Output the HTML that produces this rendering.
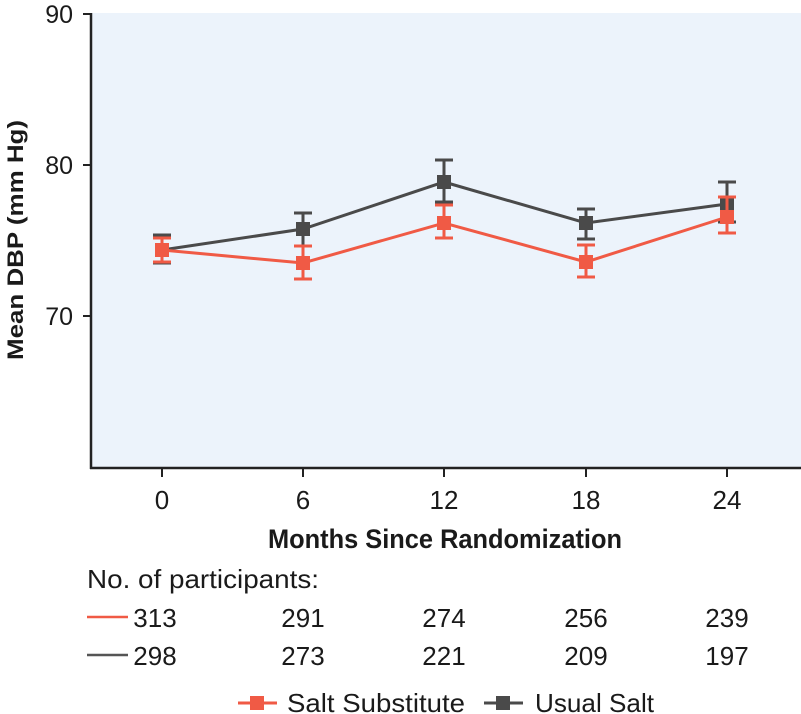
<!DOCTYPE html>
<html><head><style>
html,body{margin:0;padding:0;background:#fff;width:801px;height:714px;overflow:hidden}
text{font-family:"Liberation Sans",sans-serif;fill:#1a1a1a}
</style></head><body>
<svg width="801" height="714" viewBox="0 0 801 714" xmlns="http://www.w3.org/2000/svg">
<rect x="92" y="13" width="709" height="455" fill="#ecf3fb"/>
<line x1="91" y1="13" x2="91" y2="469" stroke="#222" stroke-width="2.5"/>
<line x1="90" y1="468" x2="801" y2="468" stroke="#222" stroke-width="2.5"/>
<g stroke="#222" stroke-width="2">
<line x1="83" y1="14" x2="91" y2="14"/><line x1="83" y1="165" x2="91" y2="165"/><line x1="83" y1="316" x2="91" y2="316"/>
<line x1="162" y1="468" x2="162" y2="477"/><line x1="303" y1="468" x2="303" y2="477"/><line x1="444" y1="468" x2="444" y2="477"/><line x1="586" y1="468" x2="586" y2="477"/><line x1="727" y1="468" x2="727" y2="477"/>
</g>
<g font-size="25" text-anchor="end"><text x="73" y="23">90</text><text x="73" y="174">80</text><text x="73" y="325">70</text></g>
<text transform="translate(23,240) rotate(-90)" text-anchor="middle" font-size="22" font-weight="bold" textLength="240" lengthAdjust="spacingAndGlyphs">Mean DBP (mm Hg)</text>
<g font-size="26" text-anchor="middle"><text x="162" y="509">0</text><text x="303" y="509">6</text><text x="444" y="509">12</text><text x="586" y="509">18</text><text x="727" y="509">24</text></g>
<text x="445" y="548" text-anchor="middle" font-size="27" font-weight="bold" textLength="354" lengthAdjust="spacingAndGlyphs">Months Since Randomization</text>
<text x="87" y="588" font-size="26" textLength="232" lengthAdjust="spacingAndGlyphs">No. of participants:</text>
<line x1="87" y1="617" x2="128" y2="617" stroke="#f05a45" stroke-width="2.5"/>
<line x1="87" y1="655" x2="128" y2="655" stroke="#555" stroke-width="2.5"/>
<g font-size="26" text-anchor="middle">
<text x="155" y="627">313</text><text x="303" y="627">291</text><text x="444" y="627">274</text><text x="586" y="627">256</text><text x="727" y="627">239</text>
<text x="155" y="665">298</text><text x="303" y="665">273</text><text x="444" y="665">221</text><text x="586" y="665">209</text><text x="727" y="665">197</text>
</g>
<line x1="238" y1="703" x2="277" y2="703" stroke="#f05a45" stroke-width="3"/><rect x="250" y="696" width="14" height="14" fill="#f05a45"/>
<text x="287" y="712" font-size="26" textLength="178" lengthAdjust="spacingAndGlyphs">Salt Substitute</text>
<line x1="484" y1="703" x2="523" y2="703" stroke="#4a4a4a" stroke-width="3"/><rect x="496" y="696" width="14" height="14" fill="#4a4a4a"/>
<text x="535" y="712" font-size="26" textLength="119" lengthAdjust="spacingAndGlyphs">Usual Salt</text>
<g stroke="#4a4a4a" stroke-width="3" fill="none">
<polyline points="162,250 303,229 444,182 586,223 727,204"/>
<path d="M162,234V264M153,235H171M153,263H171 M303,212V247M294,213H312M294,246H312 M444,159V203M435,160H453M435,202H453 M586,209V239M577,209H595M577,239H595 M727,181V223M718,182H736M718,222H736"/>
</g>
<g fill="#4a4a4a"><rect x="155" y="243" width="14" height="14"/><rect x="296" y="222" width="14" height="14"/><rect x="437" y="175" width="14" height="14"/><rect x="579" y="216" width="14" height="14"/><rect x="720" y="197" width="14" height="14"/></g>
<g stroke="#f05a45" stroke-width="3" fill="none">
<polyline points="162,250 303,263 444,223 586,262 727,217"/>
<path d="M162,237V263M153,238H171M153,262H171 M303,246V279M294,246H312M294,279H312 M444,205V238M435,205H453M435,238H453 M586,245V277M577,245H595M577,277H595 M727,197V233M718,197H736M718,233H736"/>
</g>
<g fill="#f05a45"><rect x="155" y="243" width="14" height="14"/><rect x="296" y="256" width="14" height="14"/><rect x="437" y="216" width="14" height="14"/><rect x="579" y="255" width="14" height="14"/><rect x="720" y="210" width="14" height="14"/></g>
</svg>
</body></html>
